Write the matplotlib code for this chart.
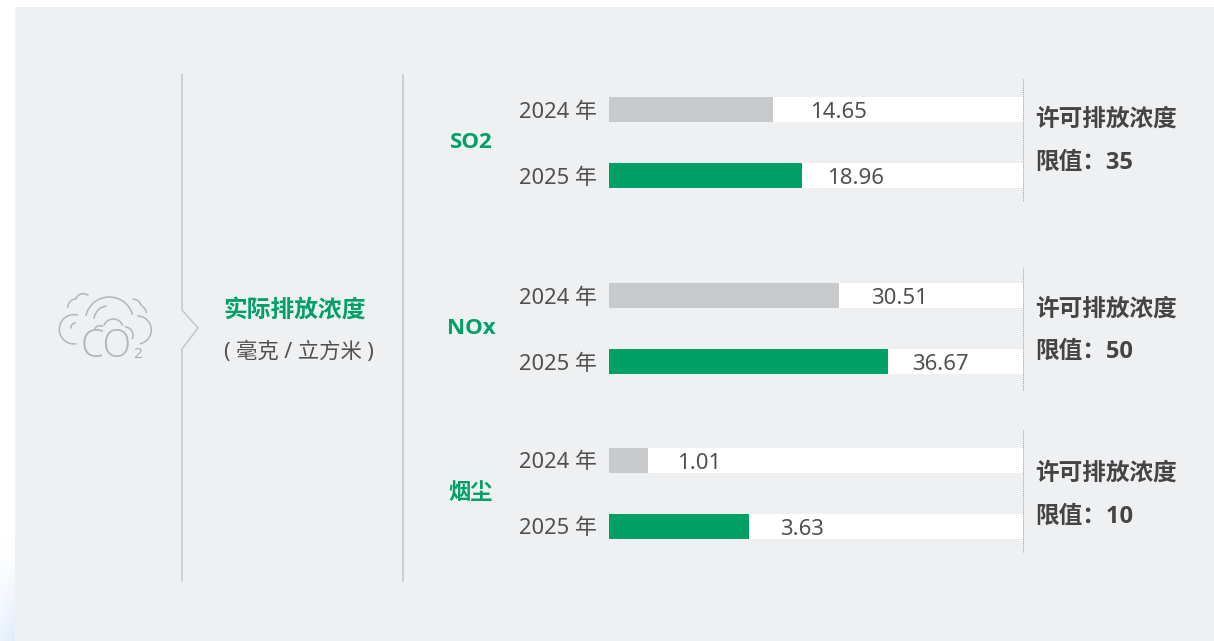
import matplotlib
matplotlib.use("Agg")
import matplotlib.pyplot as plt
import numpy as np
from matplotlib.patches import Arc

FONT = ['Noto Sans', 'Noto Sans CJK SC', 'DejaVu Sans']
BOLD = ['Open Sans', 'Noto Sans CJK SC', 'DejaVu Sans']
plt.rcParams['font.family'] = FONT

# ---- data ----
pollutants = ['SO2', 'NOx', '烟尘']
years = ['2024 年', '2025 年']
value_labels = [['14.65', '18.96'], ['30.51', '36.67'], ['1.01', '3.63']]
limits = [35, 50, 10]
# length of each bar, in % of the white track
bar_share = [[39.6, 46.6], [55.6, 67.4], [9.4, 33.8]]
title = '实际排放浓度'
unit = '( 毫克 / 立方米 )'
limit_title = '许可排放浓度'

# ---- style / layout ----
W, H = 1214, 641
PANEL = '#eff0f2'; GREEN = '#00a067'; GREY = '#c8c9cb'; TXT = '#505050'; DARK = '#444444'; LINE = '#c4c5c7'
bar_centres = [142.5, 328.5, 493.5]
dotted_tops = [79, 268, 430]
dotted_h = 122
name_y = [142, 328, 493]
limit_y = [(120, 163), (310, 352), (474, 517)]
row_gap = 66
bar_px = 25
label_gap = [[37, 25], [32, 24], [29, 31]]

fig = plt.figure(figsize=(W / 100, H / 100), dpi=100, facecolor='white')


def axes_px(x0, y0, x1, y1, **kw):
    return fig.add_axes([x0 / W, 1 - y1 / H, (x1 - x0) / W, (y1 - y0) / H], **kw)


# background layer in pixel coordinates
bg = axes_px(0, 0, W, H)
bg.set_xlim(0, W); bg.set_ylim(H, 0); bg.axis('off')
grad = np.ones((101, 15, 3))
fade = np.linspace(0, 1, 101)[:, None] ** 1.3
across = np.linspace(0.6, 1, 15)[None, :]
tint = np.array([0.87, 0.92, 0.98])
for c in range(3):
    grad[:, :, c] = 1 - (1 - tint[c]) * fade * across
bg.imshow(grad, extent=(0, 15, 641, 540), aspect='auto', zorder=0)
bg.set_xlim(0, W); bg.set_ylim(H, 0)
bg.fill_between([15, W], 7, H, color=PANEL, lw=0, zorder=1)

# separators
bg.plot([182, 182, 198, 182, 182], [74.5, 310, 328, 349, 580.5], color=LINE, lw=1.1, zorder=2)
bg.plot([403, 403], [74.5, 580.5], color=LINE, lw=1.1, zorder=2)

# heading
bg.text(223, 311, title, color=GREEN, fontsize=17.1, fontweight='bold', va='center', ha='left', zorder=3)
bg.text(224, 352, unit, color=TXT, fontsize=15.4, va='center', ha='left', zorder=3)

# CO2 icon
ICON = '#b4b5b7'
arcs = [  # cx, cy, w, h, theta1, theta2  (y axis inverted: angles run clockwise on screen)
    (109.3, 321, 48, 48, 192, 345),
    (74, 329.3, 29.4, 29.4, 80, 285),
    (137.3, 330, 28, 28, 270, 80),
    (108, 320, 28, 28, 185, 265),
    (76, 327.7, 10, 10, 170, 270),
    (113.3, 329, 20, 20, 200, 340),
    (100, 331.7, 12, 12, 200, 300),
    (125, 335, 16, 16, 270, 30),
    (76.7, 307.7, 18, 18, 180, 270),
    (83.3, 301.7, 16, 16, 200, 310),
    (132.7, 307.7, 17.4, 17.4, 270, 350),
    (138.3, 313.3, 16, 16, 300, 360),
]
for cx, cy, w, h, t1, t2 in arcs:
    bg.add_patch(Arc((cx, cy), w, h, theta1=t1, theta2=t2, color=ICON, lw=1.1, zorder=3))
bg.text(80.5, 347, 'CO', color=ICON, fontsize=27, fontfamily=['Open Sans', 'DejaVu Sans'], fontweight='light',
        va='center', ha='left', zorder=3)
bg.text(133, 354, '2', color='#a8a9ab', fontsize=11, fontfamily=['Open Sans', 'DejaVu Sans'], va='center', ha='left', zorder=3)

# panels
for i, name in enumerate(pollutants):
    centre = bar_centres[i]
    half = dotted_h / 2
    ax = axes_px(609, centre - half, 1023, centre + half)
    ax.patch.set_alpha(0)
    pos = np.arange(len(years))
    extra = (dotted_h / row_gap - 1) / 2
    ax.set_ylim(1 + extra, -extra)
    ax.set_xlim(0, 100)
    h = bar_px / row_gap
    ax.barh(pos, [100, 100], height=h, color='white', lw=0, zorder=1)
    ax.barh(pos, bar_share[i], height=h, color=[GREY, GREEN], lw=0, zorder=2)
    ax.set_yticks(pos, years, fontsize=15.8, color=TXT)
    ax.tick_params(axis='y', length=0, pad=8.5)
    ax.set_xticks([])
    for s in ax.spines.values():
        s.set_visible(False)
    for j, share in enumerate(bar_share[i]):
        ax.annotate(value_labels[i][j], (share, j),
                    xytext=(label_gap[i][j] * 0.72, -2.0), textcoords='offset points',
                    fontsize=16, color=TXT, va='center', ha='left', zorder=3)
    top = dotted_tops[i]
    bg.plot([1023, 1023], [top, top + dotted_h], color='#a2a3a5', lw=0.75,
            linestyle=(0, (1, 1)), zorder=4)
    bg.text(471, name_y[i], name, color=GREEN, fontsize=16, fontfamily=BOLD, fontweight='bold',
            va='center', ha='center', zorder=3)
    bg.text(1035.5, limit_y[i][0], limit_title, color=DARK, fontsize=17.05, fontfamily=BOLD, fontweight='bold',
            va='center', ha='left', zorder=3)
    bg.text(1035.5, limit_y[i][1], f'限值：{limits[i]}', color=DARK, fontsize=17.05, fontfamily=BOLD, fontweight='bold',
            va='center', ha='left', zorder=3)

fig.savefig('out.png', dpi=100, facecolor='white')
